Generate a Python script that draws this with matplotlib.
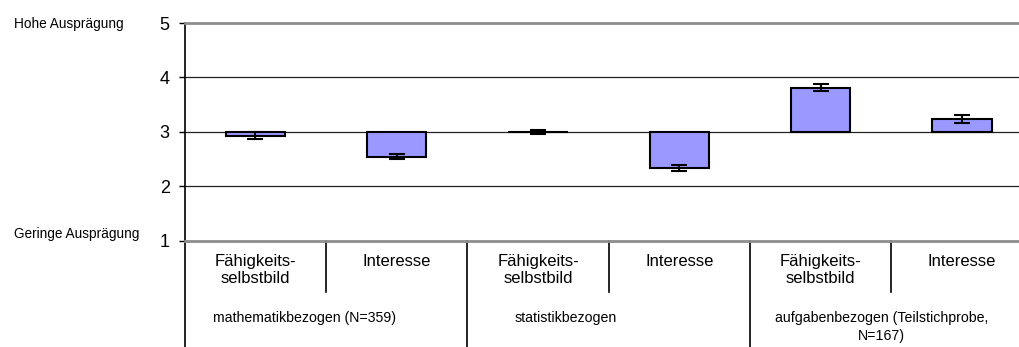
import matplotlib.pyplot as plt

categories = ["Fähigkeits-\nselbstbild", "Interesse",
              "Fähigkeits-\nselbstbild", "Interesse",
              "Fähigkeits-\nselbstbild", "Interesse"]
groups = ["mathematikbezogen (N=359)", "statistikbezogen",
          "aufgabenbezogen (Teilstichprobe,\nN=167)"]
means = [2.93, 2.54, 3.00, 2.33, 3.81, 3.24]
errors = [0.06, 0.05, 0.04, 0.06, 0.06, 0.07]
baseline = 3
yticks = [1, 2, 3, 4, 5]

plt.rcParams["font.family"] = ["Liberation Sans", "DejaVu Sans"]

fig = plt.figure(figsize=(10.19, 3.47), dpi=100)
# axes runs a bit past the right edge like the cropped original
ax = fig.add_axes([184.7 / 1019, 1 - 240.5 / 347, 848 / 1019, 217.5 / 347])

x = list(range(len(means)))
heights = [m - baseline for m in means]
ax.bar(x, heights, bottom=baseline, width=0.42, color="#9999FF",
       edgecolor="black", linewidth=1.5, zorder=3,
       yerr=errors, error_kw=dict(ecolor="black", elinewidth=1.5,
                                  capsize=5.8, capthick=1.5, zorder=4))

ax.set_xlim(-0.5, len(means) - 0.5)
ax.set_ylim(1, 5)
ax.set_yticks(yticks)
ax.tick_params(axis="y", length=4.3, width=1, pad=6.5, labelsize=13)
ax.set_xticks([])

for v in [2, 3, 4]:
    ax.axhline(v, color="#222222", lw=0.9, zorder=2)

ax.spines["right"].set_visible(False)
ax.spines["top"].set_color("#8c8c8c")
ax.spines["top"].set_linewidth(2)
ax.spines["bottom"].set_color("#8c8c8c")
ax.spines["bottom"].set_linewidth(2)
ax.spines["left"].set_linewidth(1.2)

# table-like category axis below the plot
trans = ax.get_xaxis_transform()
row1_top = -0.062
row2_top = -0.325
sep_small = -0.237
bottom = -0.5

ax.plot([-0.5, -0.5], [0, bottom], color="black", lw=1.2, transform=trans, clip_on=False)
for b in [0.5, 2.5, 4.5]:
    ax.plot([b, b], [0, sep_small], color="black", lw=1.2, transform=trans, clip_on=False)
for b in [1.5, 3.5]:
    ax.plot([b, b], [0, bottom], color="black", lw=1.2, transform=trans, clip_on=False)

for xi, lab in zip(x, categories):
    ax.text(xi, row1_top, lab, transform=trans, ha="center", va="top",
            fontsize=12, linespacing=1.15)

narrow = ["Liberation Sans Narrow", "Liberation Sans", "DejaVu Sans"]
group_x = [0.348, 2.198, 4.428]
for gx, lab in zip(group_x, groups):
    ax.text(gx, row2_top, lab, transform=trans, ha="center", va="top",
            fontsize=10.2, linespacing=1.35, multialignment="center",
            family=narrow)

fig.text(14 / 1019, 1 - 24 / 347, "Hohe Ausprägung", ha="left", va="center",
         fontsize=9.8, family=narrow)
fig.text(14 / 1019, 1 - 234 / 347, "Geringe Ausprägung", ha="left", va="center",
         fontsize=9.8, family=narrow)

fig.savefig("out.png", dpi=100)
